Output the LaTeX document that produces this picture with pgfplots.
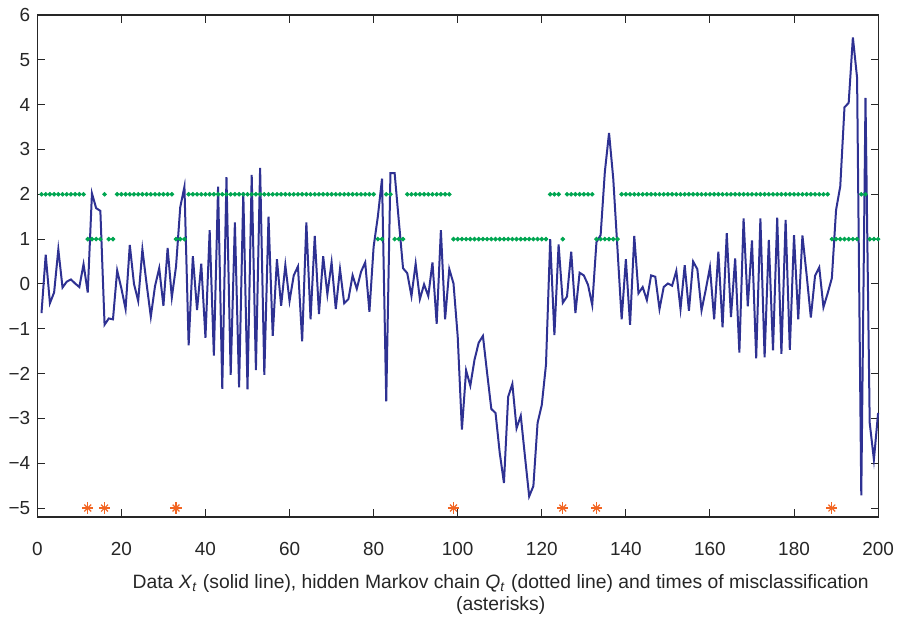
\documentclass[border=0pt]{standalone}
\usepackage{pgfplots}
\pgfplotsset{compat=1.18}
\usepackage{pgfplotstable}
\usepackage{fontspec}
\setmainfont{Liberation Sans}
\definecolor{lineblue}{HTML}{2E3192}
\definecolor{dotgreen}{HTML}{00A651}
\definecolor{astorange}{HTML}{F26522}

\pgfplotstableread{
t x q
1 -0.65 2
2 0.65 2
3 -0.43 2
4 -0.19 2
5 0.77 2
6 -0.08 2
7 0.05 2
8 0.10 2
9 0.01 2
10 -0.07 2
11 0.44 2
12 -0.19 1
13 2.02 1
14 1.69 1
15 1.63 1
16 -0.91 2
17 -0.77 1
18 -0.79 1
19 0.30 2
20 -0.10 2
21 -0.56 2
22 0.87 2
23 0.00 2
24 -0.38 2
25 0.77 2
26 0.00 2
27 -0.73 2
28 -0.05 2
29 0.35 2
30 -0.49 2
31 0.80 2
32 -0.30 2
33 0.39 1
34 1.71 1
35 2.17 1
36 -1.37 2
37 0.62 2
38 -0.58 2
39 0.45 2
40 -1.20 2
41 1.20 2
42 -1.60 2
43 2.17 2
44 -2.34 2
45 2.38 2
46 -2.03 2
47 1.37 2
48 -2.31 2
49 2.04 2
50 -2.35 2
51 2.43 2
52 -1.92 2
53 2.59 2
54 -2.03 2
55 1.50 2
56 -1.16 2
57 0.55 2
58 -0.49 2
59 0.42 2
60 -0.38 2
61 0.19 2
62 0.39 2
63 -1.28 2
64 1.37 2
65 -0.79 2
66 1.07 2
67 -0.67 2
68 0.62 2
69 -0.23 2
70 0.48 2
71 -0.56 2
72 0.33 2
73 -0.43 2
74 -0.34 2
75 0.19 2
76 -0.11 2
77 0.27 2
78 0.48 2
79 -0.62 2
80 0.83 2
81 1.50 1
82 2.35 1
83 -2.62 2
84 2.47 2
85 2.47 1
86 1.40 1
87 0.35 1
88 0.24 2
89 -0.27 2
90 0.45 2
91 -0.34 2
92 -0.01 2
93 -0.27 2
94 0.48 2
95 -0.89 2
96 1.20 2
97 -0.79 2
98 0.33 2
99 0.01 1
100 -1.17 1
101 -3.25 1
102 -1.93 1
103 -2.27 1
104 -1.69 1
105 -1.31 1
106 -1.16 1
107 -1.99 1
108 -2.79 1
109 -2.88 1
110 -3.77 1
111 -4.44 1
112 -2.52 1
113 -2.23 1
114 -3.22 1
115 -2.94 1
116 -3.85 1
117 -4.74 1
118 -4.51 1
119 -3.10 1
120 -2.70 1
121 -1.80 1
122 1.00 2
123 -1.14 2
124 0.88 2
125 -0.42 1
126 -0.28 2
127 0.72 2
128 -0.65 2
129 0.25 2
130 0.19 2
131 -0.02 2
132 -0.47 2
133 0.93 1
134 1.09 1
135 2.50 1
136 3.37 1
137 2.35 1
138 0.79 1
139 -0.79 2
140 0.55 2
141 -0.91 2
142 1.07 2
143 -0.21 2
144 -0.07 2
145 -0.36 2
146 0.19 2
147 0.16 2
148 -0.56 2
149 -0.07 2
150 0.01 2
151 -0.04 2
152 0.29 2
153 -0.56 2
154 0.42 2
155 -0.60 2
156 0.50 2
157 0.33 2
158 -0.59 2
159 -0.13 2
160 0.37 2
161 -0.79 2
162 0.72 2
163 -0.97 2
164 1.13 2
165 -0.74 2
166 0.57 2
167 -1.53 2
168 1.46 2
169 -0.50 2
170 0.97 2
171 -1.66 2
172 1.46 2
173 -1.64 2
174 0.98 2
175 -1.48 2
176 1.48 2
177 -1.56 2
178 1.43 2
179 -1.47 2
180 1.09 2
181 -0.79 2
182 1.08 2
183 0.20 2
184 -0.75 2
185 0.18 2
186 0.37 2
187 -0.52 2
188 -0.21 2
189 0.13 1
190 1.65 1
191 2.18 1
192 3.94 1
193 4.04 1
194 5.50 1
195 4.60 1
196 -4.72 2
197 4.15 2
198 -3.10 1
199 -3.92 1
200 -2.88 1
}\datatable

\pgfplotstableread{
t y
12 -5
16 -5
33 -5
99 -5
125 -5
133 -5
189 -5
}\misstable

\begin{document}
\begin{tikzpicture}
\path[use as bounding box] (-18.65bp,-51.5bp) rectangle (433.35bp,258.5bp);
\begin{axis}[
  scale only axis,
  width=420.4bp, height=251bp,
  xmin=0, xmax=200, ymin=-5.2, ymax=6,
  xtick={0,20,...,200},
  xticklabels={0,20,40,60,80,100,120,140,160,180,200},
  ytick={-5,-4,...,6},
  yticklabels={−5,−4,−3,−2,−1,0,1,2,3,4,5,6},
  tick align=inside,
  major tick length=3.8bp,
  tick style={black!85, line width=0.5bp},
  axis line style={black!85, line width=0.6bp},
  every tick label/.style={font=\fontsize{9.5}{11}\selectfont, text=black!85},
  xticklabel style={yshift=-9bp},
  xlabel={Data \textit{X}\textsubscript{\textit{t}} (solid line), hidden Markov chain \textit{Q}\textsubscript{\textit{t}} (dotted line) and times of misclassification\\(asterisks)},
  xlabel style={align=center, font=\fontsize{9.7}{11}\selectfont, text=black!85, yshift=-2.5bp, xshift=21.5bp},
  clip=false,
]
\addplot[color=dotgreen, only marks, mark=*, mark size=0.95bp, mark options={draw=none, fill=dotgreen}] table[x=t, y=q] {\datatable};
\addplot[color=lineblue, line width=1bp, mark=none] table[x=t, y=x] {\datatable};
\addplot[color=astorange, only marks, mark=+, mark size=2.8bp, mark options={line width=0.6bp}] table[x=t, y=y] {\misstable};
\addplot[color=astorange, only marks, mark=x, mark size=2.4bp, mark options={line width=0.6bp}] table[x=t, y=y] {\misstable};
\end{axis}
\end{tikzpicture}
\end{document}
